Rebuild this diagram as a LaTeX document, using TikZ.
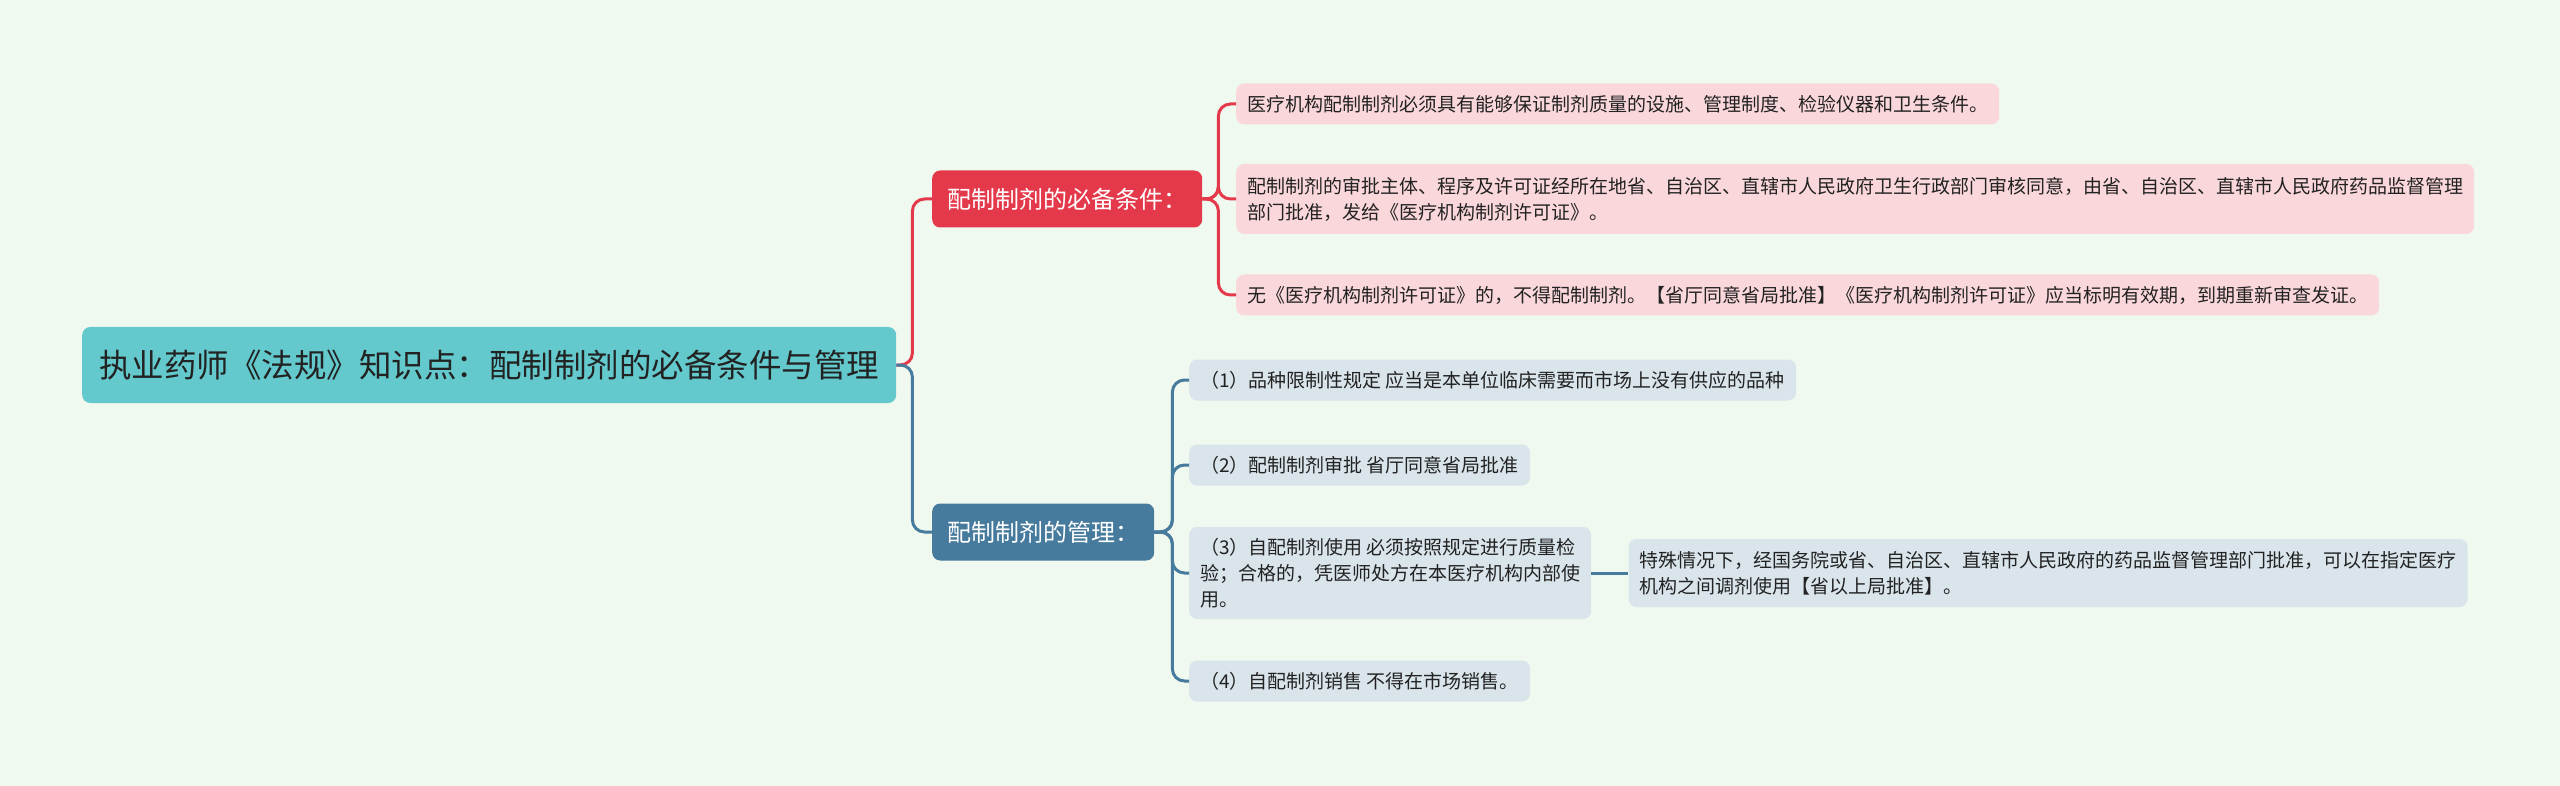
\documentclass[tikz,border=0pt]{standalone}
\usepackage{fontspec}
\setmainfont{Noto Sans CJK SC}
\usetikzlibrary{positioning}
\definecolor{bgcol}{HTML}{F0F9EF}
\definecolor{rootcol}{HTML}{63C9CC}
\definecolor{redcol}{HTML}{E4394A}
\definecolor{bluecol}{HTML}{467B9D}
\definecolor{pinkcol}{HTML}{FAD7DB}
\definecolor{greycol}{HTML}{D9E4EB}
\definecolor{inkcol}{HTML}{222222}

\begin{document}
\begin{tikzpicture}[x=1pt, y=-1pt,
  mainnode/.style={fill=rootcol, rounded corners=8pt, text=inkcol, anchor=west,
    font=\fontsize{32.5}{38}\selectfont, inner xsep=17pt, inner ysep=0pt, minimum height=76pt},
  redtopic/.style={fill=redcol, rounded corners=8pt, text=white, anchor=west,
    font=\fontsize{24}{28}\selectfont, inner xsep=15pt, inner ysep=0pt, minimum height=57pt},
  bluetopic/.style={redtopic, fill=bluecol},
  pinkleaf/.style={fill=pinkcol, rounded corners=8pt, text=inkcol, anchor=west, align=left,
    font=\fontsize{19}{26}\selectfont, inner xsep=11pt, inner ysep=0pt, minimum height=41pt},
  greyleaf/.style={pinkleaf, fill=greycol},
  redlink/.style={draw=redcol, line width=3pt, rounded corners=12pt},
  bluelink/.style={draw=bluecol, line width=3pt, rounded corners=12pt}]

  \fill[bgcol] (0,0) rectangle (2560,786);
  \useasboundingbox (0,0) rectangle (2560,786);

  % root and topics
  \node[mainnode] (root) at (82,365) {执业药师《法规》知识点：配制制剂的必备条件与管理};
  \node[redtopic] (need) at (932,199) {配制制剂的必备条件：};
  \node[bluetopic] (manage) at (932,532) {配制制剂的管理：};

  % conditions
  \node[pinkleaf] (need1) at (1236,104) {医疗机构配制制剂必须具有能够保证制剂质量的设施、管理制度、检验仪器和卫生条件。};
  \node[pinkleaf, minimum height=70pt] (need2) at (1236,199)
    {配制制剂的审批主体、程序及许可证经所在地省、自治区、直辖市人民政府卫生行政部门审核同意，由省、自治区、直辖市人民政府药品监督管理\\部门批准，发给《医疗机构制剂许可证》。};
  \node[pinkleaf] (need3) at (1236,295) {无《医疗机构制剂许可证》的，不得配制制剂。【省厅同意省局批准】《医疗机构制剂许可证》应当标明有效期，到期重新审查发证。};

  % management
  \node[greyleaf] (man1) at (1189,380) {（1）品种限制性规定 应当是本单位临床需要而市场上没有供应的品种};
  \node[greyleaf] (man2) at (1189,465) {（2）配制制剂审批 省厅同意省局批准};
  \node[greyleaf, minimum height=92pt] (man3) at (1189,573)
    {（3）自配制剂使用 必须按照规定进行质量检\\验；合格的，凭医师处方在本医疗机构内部使\\用。};
  \node[greyleaf] (man4) at (1189,681) {（4）自配制剂销售 不得在市场销售。};
  \node[greyleaf, minimum height=68pt, right=37pt of man3] (man3a)
    {特殊情况下，经国务院或省、自治区、直辖市人民政府的药品监督管理部门批准，可以在指定医疗\\机构之间调剂使用【省以上局批准】。};

  % connectors
  \draw[redlink] (root.east) -- ++(16,0) |- (need.west);
  \draw[bluelink] (root.east) -- ++(16,0) |- (manage.west);
  \foreach \leaf in {need1,need2,need3}
    \draw[redlink] (need.east) -- ++(16,0) |- (\leaf.west);
  \foreach \leaf in {man1,man2,man3,man4}
    \draw[bluelink] (manage.east) -- ++(18,0) |- (\leaf.west);
  \draw[bluelink] (man3) -- (man3a);
\end{tikzpicture}
\end{document}
